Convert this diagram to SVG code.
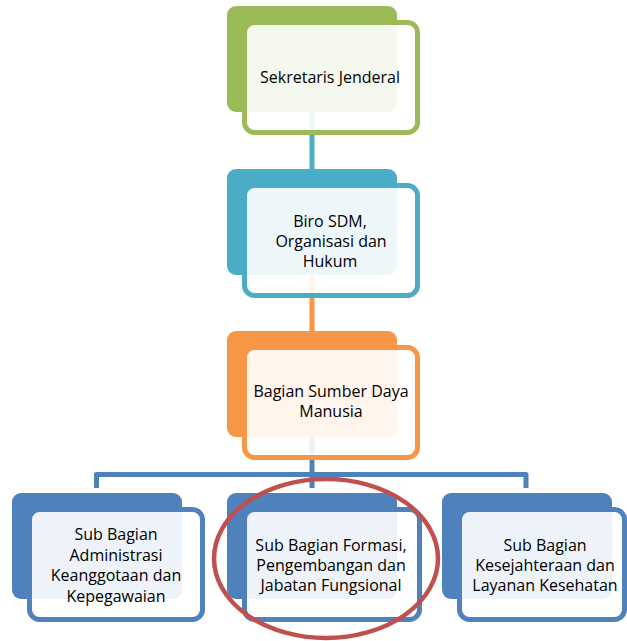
<svg xmlns="http://www.w3.org/2000/svg" width="627" height="641" viewBox="0 0 627 641">
  <style>
    .back { stroke: none; }
    .front { fill: #ffffff; fill-opacity: 0.9; stroke-width: 5; }
    .lbl { font-family: "Open Sans", "Liberation Sans", sans-serif; font-size: 16px; fill: #000000; text-anchor: middle; }
    .conn { fill: none; stroke-width: 5; stroke-linejoin: round; }
    .green { fill: #9BBB59; }
    .teal { fill: #4BACC6; }
    .orange { fill: #F79646; }
    .blue { fill: #4F81BD; }
  </style>
  <rect width="627" height="641" fill="#ffffff"/>

  <g id="connectors">
    <line class="conn" x1="312" y1="110" x2="312" y2="171" stroke="#4BACC6"/>
    <line class="conn" x1="312" y1="272" x2="312" y2="333" stroke="#F79646"/>
    <line class="conn" x1="312" y1="434" x2="312" y2="488" stroke="#4F81BD"/>
    <path class="conn" d="M96.5,488 V474.5 H526 V488" stroke="#4F81BD"/>
  </g>

  <g id="node-sekjen">
    <rect class="back green" x="227" y="6" width="170" height="106" rx="9"/>
    <rect class="front" x="244.5" y="22.5" width="173" height="110" rx="10" stroke="#9BBB59"/>
    <text class="lbl" x="330" y="83">Sekretaris Jenderal</text>
  </g>

  <g id="node-biro">
    <rect class="back teal" x="227" y="169" width="170" height="106" rx="9"/>
    <rect class="front" x="244.5" y="185.5" width="173" height="110" rx="10" stroke="#4BACC6"/>
    <text class="lbl" x="330" y="226.5">Biro SDM,</text>
    <text class="lbl" x="331" y="246.5">Organisasi dan</text>
    <text class="lbl" x="330" y="266.5">Hukum</text>
  </g>

  <g id="node-bagian">
    <rect class="back orange" x="227" y="331" width="170" height="106" rx="9"/>
    <rect class="front" x="244.5" y="347.5" width="173" height="110" rx="10" stroke="#F79646"/>
    <text class="lbl" x="331" y="397">Bagian Sumber Daya</text>
    <text class="lbl" x="331" y="417">Manusia</text>
  </g>

  <g id="node-sub-admin">
    <rect class="back blue" x="12" y="493" width="170" height="106" rx="9"/>
    <rect class="front" x="29.5" y="509.5" width="173" height="110" rx="10" stroke="#4F81BD"/>
    <text class="lbl" x="116" y="540">Sub Bagian</text>
    <text class="lbl" x="116" y="560.5">Administrasi</text>
    <text class="lbl" x="116" y="581">Keanggotaan dan</text>
    <text class="lbl" x="116" y="601.5">Kepegawaian</text>
  </g>

  <g id="node-sub-formasi">
    <rect class="back blue" x="227" y="493" width="170" height="106" rx="9"/>
    <rect class="front" x="244.5" y="509.5" width="175" height="110" rx="10" stroke="#4F81BD"/>
    <text class="lbl" x="331" y="550.5">Sub Bagian Formasi,</text>
    <text class="lbl" x="331" y="570.5">Pengembangan dan</text>
    <text class="lbl" x="331" y="590.5">Jabatan Fungsional</text>
  </g>

  <g id="node-sub-kesejahteraan">
    <rect class="back blue" x="442" y="493" width="170" height="106" rx="9"/>
    <rect class="front" x="459.5" y="509.5" width="165" height="110" rx="10" stroke="#4F81BD"/>
    <text class="lbl" x="545" y="550.5">Sub Bagian</text>
    <text class="lbl" x="545" y="570.5">Kesejahteraan dan</text>
    <text class="lbl" x="545" y="590.5">Layanan Kesehatan</text>
  </g>

  <g id="highlight">
    <ellipse cx="326" cy="558.5" rx="112" ry="79.5" fill="none" stroke="#C0504D" stroke-width="4.5"/>
  </g>
</svg>
